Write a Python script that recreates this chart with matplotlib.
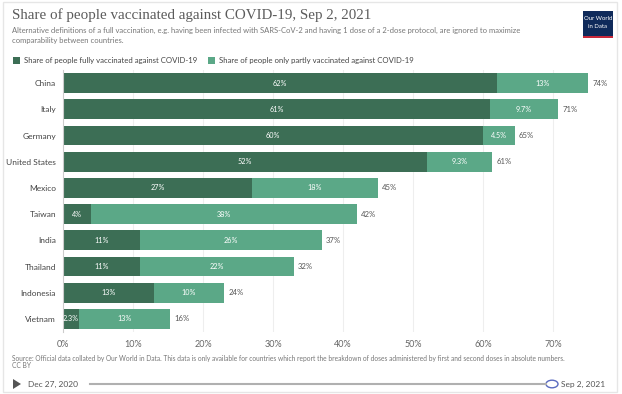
import matplotlib.pyplot as plt
from matplotlib.patches import Rectangle, Circle, Polygon
from matplotlib.lines import Line2D

# Data
countries = ["China", "Italy", "Germany", "United States", "Mexico",
             "Taiwan", "India", "Thailand", "Indonesia", "Vietnam"]
fully = [62, 61, 60, 52, 27, 4, 11, 11, 13, 2.3]
partly = [13, 9.7, 4.5, 9.3, 18, 38, 26, 22, 10, 13]
totals = [74, 71, 65, 61, 45, 42, 37, 32, 24, 16]
ticks = [0, 10, 20, 30, 40, 50, 60, 70]

DARK = "#3c6e55"
LIGHT = "#5ba887"
TXT = "#555555"

W, H = 622, 394
fig = plt.figure(figsize=(W / 100, H / 100), dpi=100)


def fx(px):
    return px / W


def fy(py):
    return 1 - py / H


# card frame
fig.patches.append(Rectangle((fx(3), fy(392)), fx(614), 390 / H, transform=fig.transFigure,
                             fill=False, edgecolor="#e6e6e6", linewidth=1))

# title block
fig.text(fx(12), fy(15), "Share of people vaccinated against COVID-19, Sep 2, 2021",
         family="Liberation Serif", fontsize=10.8, color="#5b5b5b", va="center")
fig.text(fx(12), fy(30), "Alternative definitions of a full vaccination, e.g. having been infected with "
         "SARS-CoV-2 and having 1 dose of a 2-dose protocol, are ignored to maximize",
         family="Lato", fontsize=5.5, color="#777777", va="center")
fig.text(fx(12), fy(40), "comparability between countries.",
         family="Lato", fontsize=5.5, color="#777777", va="center")

# logo
fig.patches.append(Rectangle((fx(583), fy(37)), fx(30), 26 / H, transform=fig.transFigure,
                             facecolor="#0f2a5a", edgecolor="none"))
fig.patches.append(Rectangle((fx(583), fy(38)), fx(30), 2 / H, transform=fig.transFigure,
                             facecolor="#c8283a", edgecolor="none"))
fig.text(fx(598), fy(19), "Our World", family="Lato", fontsize=4.3, color="white",
         ha="center", va="center")
fig.text(fx(598), fy(27), "in Data", family="Lato", fontsize=4.3, color="white",
         ha="center", va="center")

# legend
fig.patches.append(Rectangle((fx(13), fy(64)), fx(7), 7 / H, transform=fig.transFigure,
                             facecolor=DARK, edgecolor="none"))
fig.text(fx(24), fy(60.5), "Share of people fully vaccinated against COVID-19",
         family="Lato", fontsize=5.6, color="#444444", va="center")
fig.patches.append(Rectangle((fx(208), fy(64)), fx(7), 7 / H, transform=fig.transFigure,
                             facecolor=LIGHT, edgecolor="none"))
fig.text(fx(219), fy(60.5), "Share of people only partly vaccinated against COVID-19",
         family="Lato", fontsize=5.6, color="#444444", va="center")

# bars
ax = fig.add_axes([fx(63), fy(332), fx(546), 262 / H])
y = list(range(len(countries)))
ax.barh(y, fully, height=0.76, color=DARK, zorder=2)
ax.barh(y, partly, left=fully, height=0.76, color=LIGHT, zorder=2)

for i in y:
    ax.text(fully[i] / 2, i, f"{fully[i]:g}%", color="white", fontsize=5.2,
            family="Lato", ha="center", va="center", zorder=3)
    ax.text(fully[i] + partly[i] / 2, i, f"{partly[i]:g}%", color="white", fontsize=5.2,
            family="Lato", ha="center", va="center", zorder=3)
    ax.text(fully[i] + partly[i] + 0.6, i, f"{totals[i]}%", color=TXT, fontsize=5.6,
            family="Lato", ha="left", va="center", zorder=3)

ax.set_xlim(0, 78)
ax.set_ylim(len(countries) - 0.5, -0.5)
ax.set_yticks(y)
ax.set_yticklabels(countries, family="Lato", fontsize=6, color="#444444")
ax.set_xticks(ticks)
ax.set_xticklabels([f"{t}%" for t in ticks], family="Lato", fontsize=6.5, color="#666666")
ax.tick_params(length=0, pad=5)
ax.tick_params(axis="x", pad=6)
for t in ticks[1:]:
    ax.axvline(t, color="#eeeeee", linewidth=0.8, zorder=1)
for s in ["top", "right", "bottom"]:
    ax.spines[s].set_visible(False)
ax.spines["left"].set_color("#cccccc")
ax.spines["left"].set_linewidth(0.8)

# source note
fig.text(fx(12), fy(358), "Source: Official data collated by Our World in Data. This data is only available "
         "for countries which report the breakdown of doses administered by first and second doses in absolute numbers.",
         family="Lato", fontsize=4.8, color="#777777", va="center")
fig.text(fx(12), fy(366), "CC BY", family="Lato", fontsize=4.8, color="#777777", va="center")

# timeline
fig.patches.append(Polygon([(fx(13), fy(379)), (fx(13), fy(389)), (fx(21), fy(384))],
                           closed=True, transform=fig.transFigure, facecolor="#555555",
                           edgecolor="none"))
fig.text(fx(28), fy(384), "Dec 27, 2020", family="Lato", fontsize=6, color="#555555", va="center")
fig.lines.append(Line2D([fx(90), fx(546)], [fy(384), fy(384)], transform=fig.transFigure,
                        color="#b0b0b0", linewidth=1.5))
fig.patches.append(Circle((fx(552), fy(384)), 6 / W, transform=fig.transFigure,
                          facecolor="white", edgecolor="#5a6bc0", linewidth=1))
fig.text(fx(561), fy(384), "Sep 2, 2021", family="Lato", fontsize=6, color="#555555", va="center")

fig.savefig("out.png", dpi=100)
